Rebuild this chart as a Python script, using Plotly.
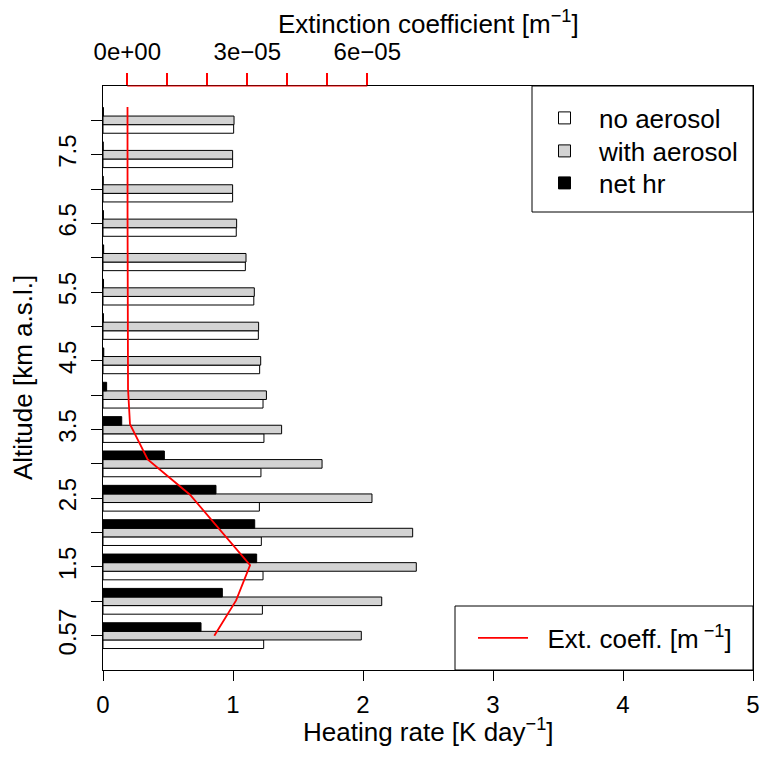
import plotly.graph_objects as go

# ---------------- data ----------------
altitudes = ["0.57", "1", "1.5", "2", "2.5", "3", "3.5", "4",
             "4.5", "5", "5.5", "6", "6.5", "7", "7.5", "8"]
alt_tick_text = ["0.57", "", "1.5", "", "2.5", "", "3.5", "",
                 "4.5", "", "5.5", "", "6.5", "", "7.5", ""]
no_aerosol = [1.236, 1.226, 1.231, 1.218, 1.203, 1.215, 1.238, 1.231,
              1.205, 1.195, 1.160, 1.095, 1.025, 0.997, 0.997, 1.005]
with_aerosol = [1.987, 2.144, 2.410, 2.382, 2.069, 1.685, 1.374, 1.257,
                1.213, 1.197, 1.164, 1.100, 1.028, 0.997, 0.997, 1.008]
net_hr = [0.754, 0.918, 1.182, 1.167, 0.869, 0.472, 0.144, 0.028,
          0.006, 0.003, 0.004, 0.005, 0.003, 0.001, 0.001, 0.003]
ext_coeff = [2.175e-5, 2.72e-5, 3.07e-5, 2.32e-5, 1.5675e-5, 0.51e-5, 0.0675e-5, 0.018e-5,
             0.012e-5, 0.010e-5, 0.008e-5, 0.007e-5, 0.006e-5, 0.006e-5, 0.005e-5, 0.005e-5]
hr_ticks = [0, 1, 2, 3, 4, 5]
ext_ticks = [0, 1e-5, 2e-5, 3e-5, 4e-5, 5e-5, 6e-5]
ext_tick_text = ["0e+00", "", "", "3e\u221205", "", "", "6e\u221205"]

pos = list(range(len(altitudes)))
FONT = "Liberation Sans, Arial, Helvetica, sans-serif"

# plot area in pixels: x 103..753, y 86..670
def px_x(p):
    return (p - 103) / 650.0

def px_y(p):
    return (670 - p) / 584.0

fig = go.Figure()
fig.add_bar(y=pos, x=no_aerosol, orientation="h", name="no aerosol", showlegend=True,
            marker=dict(color="white", line=dict(color="black", width=1)), legend="legend")
fig.add_bar(y=pos, x=with_aerosol, orientation="h", name="with aerosol", showlegend=True,
            marker=dict(color="#D3D3D3", line=dict(color="black", width=1)), legend="legend3")
fig.add_bar(y=pos, x=net_hr, orientation="h", name="net hr", showlegend=True,
            marker=dict(color="black", line=dict(color="black", width=1)), legend="legend4")
fig.add_scatter(x=ext_coeff, y=pos, mode="lines", showlegend=True,
                name="\u00a0\u00a0Ext. coeff. [m<sup> \u22121</sup>]",
                line=dict(color="red", width=1.8), xaxis="x2", yaxis="y3", legend="legend2")

leg_common = dict(xanchor="left", yanchor="middle", bgcolor="rgba(0,0,0,0)",
                  borderwidth=0, font=dict(size=26, family=FONT, color="black"))

fig.update_layout(
    width=762, height=758, showlegend=True,
    margin=dict(l=103, r=9, t=86, b=88, pad=0, autoexpand=False),
    paper_bgcolor="white", plot_bgcolor="white",
    barmode="group", bargap=0.25, bargroupgap=0,
    font=dict(family=FONT, size=24, color="black"),
    xaxis=dict(range=[0, 5], tickvals=hr_ticks, ticks="outside", ticklen=10, tickcolor="black",
               showline=True, linecolor="black", linewidth=1, mirror=True, automargin=False,
               showgrid=False, zeroline=False, ticklabelstandoff=3,
               tickfont=dict(size=24)),
    xaxis2=dict(overlaying="x", side="top", anchor="y",
                range=[-0.6075e-5, 15.6425e-5], tickvals=ext_ticks, ticktext=ext_tick_text,
                ticks="outside", ticklen=12, tickcolor="#FF0000", tickwidth=1.5,
                showline=False, showgrid=False, zeroline=False, ticklabelstandoff=3,
                tickfont=dict(size=24)),
    yaxis=dict(range=[-1, 16], tickvals=pos, ticktext=alt_tick_text, tickangle=-90,
               ticks="outside", ticklen=11, tickcolor="black", automargin=False,
               showline=True, linecolor="black", linewidth=1, mirror=True,
               showgrid=False, zeroline=False, ticklabelstandoff=5,
               tickfont=dict(size=24)),
    yaxis3=dict(overlaying="y", anchor="x", range=[-0.973, 15.594], visible=False),
    legend=dict(x=px_x(530), y=px_y(118), itemwidth=59, **leg_common),
    legend3=dict(x=px_x(530), y=px_y(151), itemwidth=59, **leg_common),
    legend4=dict(x=px_x(530), y=px_y(183), itemwidth=59, **leg_common),
    legend2=dict(x=px_x(473), y=px_y(638), itemwidth=50, **leg_common),
    shapes=[
        dict(type="line", xref="x2", yref="paper", x0=min(ext_ticks), x1=max(ext_ticks),
             y0=1, y1=1, line=dict(color="red", width=1.2)),
        dict(type="rect", xref="paper", yref="paper", x0=px_x(532), x1=1,
             y0=px_y(212), y1=1, line=dict(color="black", width=1),
             fillcolor="white", layer="above"),
        dict(type="rect", xref="paper", yref="paper", x0=px_x(455), x1=1,
             y0=0, y1=px_y(606), line=dict(color="black", width=1),
             fillcolor="white", layer="above"),
    ],
    annotations=[
        dict(text="Heating rate [K day<sup>\u22121</sup>]", xref="paper", yref="paper",
             x=0.5, y=px_y(730), xanchor="center", yanchor="middle",
             showarrow=False, font=dict(size=26)),
        dict(text="Extinction coefficient [m<sup>\u22121</sup>]", xref="paper", yref="paper",
             x=0.5, y=px_y(22), xanchor="center", yanchor="middle",
             showarrow=False, font=dict(size=26)),
        dict(text="Altitude [km a.s.l.]", xref="paper", yref="paper", textangle=-90,
             x=px_x(23), y=0.5, xanchor="center", yanchor="middle",
             showarrow=False, font=dict(size=26)),
    ],
)

fig.write_html("out.html")
